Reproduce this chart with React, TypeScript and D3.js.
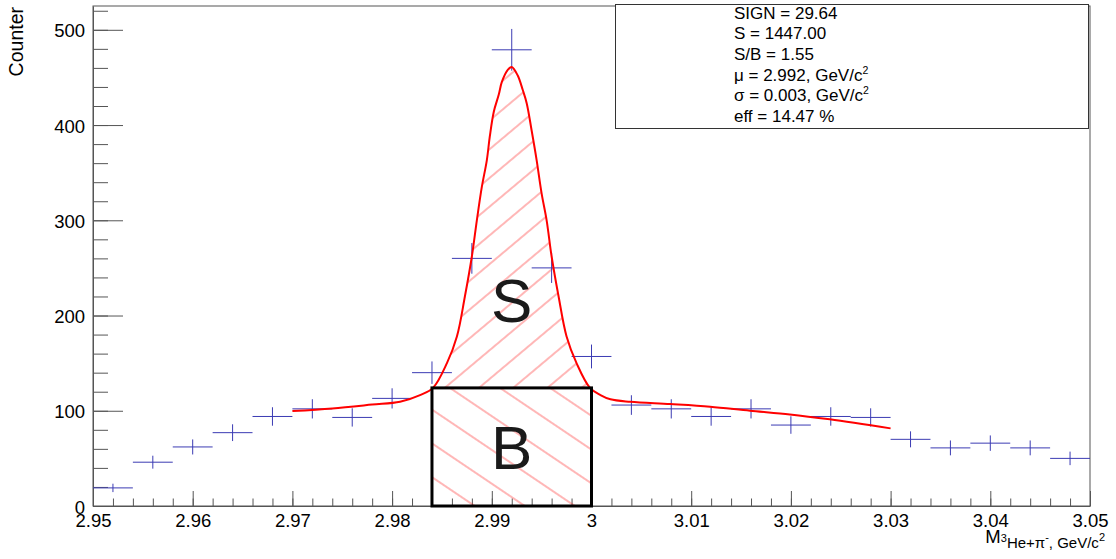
import React, { useEffect, useRef } from 'react';
import * as d3 from 'd3';

// histogram (bin centres, counts, poisson errors)
const binCenters = [2.952, 2.956, 2.96, 2.964, 2.968, 2.972, 2.976, 2.98, 2.984, 2.988, 2.992, 2.996, 3.0,
  3.004, 3.008, 3.012, 3.016, 3.02, 3.024, 3.028, 3.032, 3.036, 3.04, 3.044, 3.048];
const counts = [19, 46, 62, 77, 94, 102, 93, 113, 140, 260, 479, 250, 157,
  106, 102, 94, 102, 85, 94, 93, 70, 61, 66, 61, 50];
const errors = [4.4, 6.8, 7.9, 8.8, 9.7, 10.1, 9.6, 10.6, 11.8, 16.1, 21.9, 15.8, 12.5,
  10.3, 10.1, 9.7, 10.1, 9.2, 9.7, 9.6, 8.4, 7.8, 8.1, 7.8, 7.1];
const binWidth = 0.004;

// fit curve
const fitX = [2.97, 2.974, 2.978, 2.9808, 2.9828, 2.9841, 2.9855, 2.9865, 2.9873, 2.988, 2.9885, 2.989, 2.9895,
  2.9898, 2.9902, 2.9907, 2.991, 2.9916, 2.992, 2.9926, 2.9931, 2.9935, 2.994, 2.9945, 2.995, 2.9955, 2.996,
  2.9967, 2.9975, 2.9985, 2.99985, 3.0009, 3.0019, 3.0039, 3.0079, 3.0119, 3.0159, 3.0199, 3.0239, 3.03];
const fitY = [99.7, 102.5, 106.5, 109.5, 116.5, 124, 150, 178, 220, 262, 300, 335, 363,
  388, 414, 432, 445, 458, 461, 452, 437, 423, 394, 363, 328, 300, 262,
  220, 178, 150, 124, 116.5, 112, 109.4, 107, 104.2, 100, 96.2, 91, 81.5];

// signal window and background level
const windowLo = 2.984;
const windowHi = 3.0;
const bgLevel = 124;

const xMajor = [2.95, 2.96, 2.97, 2.98, 2.99, 3.0, 3.01, 3.02, 3.03, 3.04, 3.05];
const xMajorLabels = ['2.95', '2.96', '2.97', '2.98', '2.99', '3', '3.01', '3.02', '3.03', '3.04', '3.05'];
const yMajor = [0, 100, 200, 300, 400, 500];
const yMajorLabels = ['0', '100', '200', '300', '400', '500'];

const statNames = ['SIGN = 29.64', 'S = 1447.00', 'S/B = 1.55', 'μ = 2.992, GeV/c', 'σ = 0.003, GeV/c', 'eff = 14.47 %'];
const statSup = ['', '', '', '2', '2', ''];

const font = 'Liberation Sans, Arial, Helvetica, sans-serif';

export default function App() {
  const ref = useRef<SVGSVGElement | null>(null);
  const width = 1116;
  const height = 559;
  const frame = { left: 93, right: 1090, top: 6, bottom: 506 };

  useEffect(() => {
    const svg = d3.select(ref.current);
    svg.selectAll('*').remove();

    const x = d3.scaleLinear().domain([2.95, 3.05]).range([frame.left, frame.right]);
    const y = d3.scaleLinear().domain([0, 525]).range([frame.bottom, frame.top]);

    const defs = svg.append('defs');
    const hatch = (id, angle, gap) => {
      const p = defs.append('pattern')
        .attr('id', id)
        .attr('patternUnits', 'userSpaceOnUse')
        .attr('width', 20)
        .attr('height', gap)
        .attr('patternTransform', `rotate(${angle})`);
      p.append('line')
        .attr('x1', -5).attr('x2', 25)
        .attr('y1', gap / 2).attr('y2', gap / 2)
        .attr('stroke', '#ff3030')
        .attr('stroke-width', 0.7);
    };
    hatch('hatchS', -40, 22);
    hatch('hatchB', 34, 28);

    // frame
    svg.append('rect')
      .attr('x', frame.left).attr('y', frame.top)
      .attr('width', frame.right - frame.left).attr('height', frame.bottom - frame.top)
      .attr('fill', 'none').attr('stroke', '#555').attr('stroke-width', 1);

    // x axis, ticks pointing up
    const xMinor = d3.range(0, 51).map(i => 2.95 + i * 0.002);
    svg.append('g')
      .attr('transform', `translate(0,${frame.bottom})`)
      .call(d3.axisBottom(x).tickValues(xMinor).tickSize(-7.5).tickSizeOuter(0).tickFormat(() => ''))
      .call(g => g.select('.domain').remove())
      .call(g => g.selectAll('line').attr('stroke', '#555'));
    svg.append('g')
      .attr('transform', `translate(0,${frame.bottom})`)
      .call(d3.axisBottom(x).tickValues(xMajor).tickSize(-15).tickSizeOuter(0).tickPadding(8)
        .tickFormat((d, i) => xMajorLabels[i]))
      .call(g => g.select('.domain').attr('stroke', '#555'))
      .call(g => g.selectAll('line').attr('stroke', '#555'))
      .call(g => g.selectAll('text').attr('font-family', font).attr('font-size', 18.5).attr('fill', '#000'));

    // y axis, ticks pointing right
    const yMinor = d3.range(0, 27).map(i => i * 20);
    svg.append('g')
      .attr('transform', `translate(${frame.left},0)`)
      .call(d3.axisLeft(y).tickValues(yMinor).tickSize(-15).tickSizeOuter(0).tickFormat(() => ''))
      .call(g => g.select('.domain').remove())
      .call(g => g.selectAll('line').attr('stroke', '#555'));
    svg.append('g')
      .attr('transform', `translate(${frame.left},0)`)
      .call(d3.axisLeft(y).tickValues(yMajor).tickSize(-30).tickSizeOuter(0).tickPadding(8)
        .tickFormat((d, i) => yMajorLabels[i]))
      .call(g => g.select('.domain').attr('stroke', '#555'))
      .call(g => g.selectAll('line').attr('stroke', '#555'))
      .call(g => g.selectAll('text').attr('font-family', font).attr('font-size', 18.5).attr('fill', '#000').attr('dy', '0.38em'));

    // signal area (between fit and background level) and background box
    const sPts = fitX.map((fx, i) => [fx, fitY[i]]).filter(p => p[0] >= windowLo - 0.0002 && p[0] <= windowHi + 0.0002);
    const sArea = d3.area()
      .x(d => x(d[0]))
      .y0(y(bgLevel))
      .y1(d => y(d[1]))
      .curve(d3.curveCatmullRom);
    svg.append('path').datum(sPts).attr('d', sArea).attr('fill', 'url(#hatchS)');

    svg.append('rect')
      .attr('x', x(windowLo)).attr('y', y(bgLevel))
      .attr('width', x(windowHi) - x(windowLo)).attr('height', y(0) - y(bgLevel))
      .attr('fill', 'url(#hatchB)');

    // histogram points
    const pts = svg.append('g').attr('stroke', '#3b3bb3').attr('stroke-width', 1);
    binCenters.forEach((c, i) => {
      pts.append('line')
        .attr('x1', x(c - binWidth / 2)).attr('x2', x(c + binWidth / 2))
        .attr('y1', y(counts[i])).attr('y2', y(counts[i]));
      pts.append('line')
        .attr('x1', x(c)).attr('x2', x(c))
        .attr('y1', y(counts[i] - errors[i])).attr('y2', y(counts[i] + errors[i]));
    });

    // fit
    const line = d3.line()
      .x(d => x(d[0]))
      .y(d => y(d[1]))
      .curve(d3.curveCatmullRom);
    svg.append('path')
      .datum(fitX.map((fx, i) => [fx, fitY[i]]))
      .attr('d', line)
      .attr('fill', 'none')
      .attr('stroke', '#ff0000')
      .attr('stroke-width', 2);

    // background box outline
    svg.append('rect')
      .attr('x', x(windowLo)).attr('y', y(bgLevel))
      .attr('width', x(windowHi) - x(windowLo)).attr('height', y(0) - y(bgLevel))
      .attr('fill', 'none').attr('stroke', '#000').attr('stroke-width', 3);

    svg.append('text')
      .attr('x', x((windowLo + windowHi) / 2)).attr('y', 322)
      .attr('text-anchor', 'middle').attr('font-family', font).attr('font-size', 62).attr('fill', '#1a1a1a')
      .text('S');
    svg.append('text')
      .attr('x', x((windowLo + windowHi) / 2)).attr('y', 469)
      .attr('text-anchor', 'middle').attr('font-family', font).attr('font-size', 62).attr('fill', '#1a1a1a')
      .text('B');

    // axis titles
    svg.append('text')
      .attr('transform', 'translate(23,7) rotate(-90)')
      .attr('text-anchor', 'end').attr('font-family', font).attr('font-size', 19.5)
      .text('Counter');

    const xt = svg.append('text')
      .attr('x', 1105).attr('y', 543)
      .attr('text-anchor', 'end').attr('font-family', font).attr('font-size', 18.5);
    xt.append('tspan').text('M');
    xt.append('tspan').attr('font-size', 11).attr('dy', -1).text('3');
    xt.append('tspan').attr('font-size', 15).attr('dy', 6).text('He+π');
    xt.append('tspan').attr('font-size', 11).attr('dy', -7).text('-');
    xt.append('tspan').attr('font-size', 15).attr('dy', 7).text(', GeV/c');
    xt.append('tspan').attr('font-size', 11).attr('dy', -7).text('2');

    // stats box
    svg.append('rect')
      .attr('x', 615.5).attr('y', 4.5).attr('width', 473).attr('height', 124)
      .attr('fill', '#fff').attr('stroke', '#333').attr('stroke-width', 1);
    statNames.forEach((s, i) => {
      const t = svg.append('text')
        .attr('x', 734).attr('y', 18.5 + i * 20.7)
        .attr('font-family', font).attr('font-size', 17);
      t.append('tspan').text(s);
      if (statSup[i]) t.append('tspan').attr('font-size', 10.5).attr('dy', -7).text(statSup[i]);
    });
  });

  return (
    <svg ref={ref} width={width} height={height}
      style={{ position: 'absolute', left: 0, top: 0, background: '#fff' }} />
  );
}
